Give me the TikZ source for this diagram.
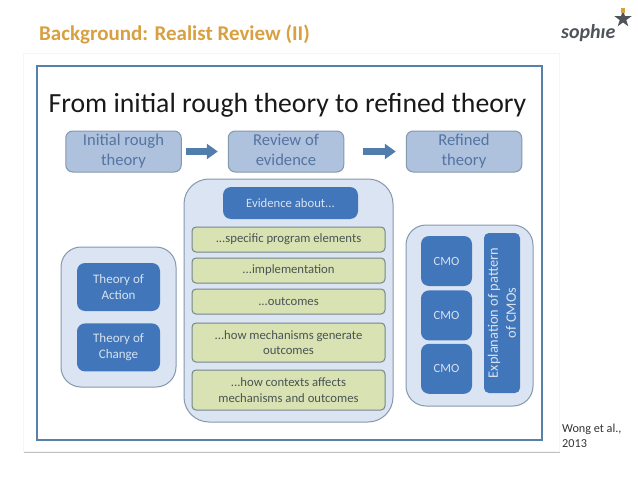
\documentclass[tikz,border=0pt]{standalone}
\usepackage{fontspec}
\usepackage{xcolor}
\setmainfont{Carlito}
\usetikzlibrary{shapes.geometric, arrows.meta, positioning, shadows}
\definecolor{framecol}{RGB}{88,128,168}
\definecolor{softblue}{RGB}{174,194,222}
\definecolor{softtext}{RGB}{84,116,162}
\definecolor{panelblue}{RGB}{219,228,242}
\definecolor{panelline}{RGB}{134,152,172}
\definecolor{deepblue}{RGB}{66,118,186}
\definecolor{paletext}{RGB}{214,226,240}
\definecolor{leaf}{RGB}{216,226,178}
\definecolor{leaftext}{RGB}{74,84,84}
\definecolor{leafline}{RGB}{116,136,140}
\definecolor{heading}{RGB}{216,160,64}
\definecolor{logogrey}{RGB}{80,84,90}

\begin{document}
\begin{tikzpicture}[
    x=1pt, y=-1pt,
    every node/.style={inner sep=0pt, align=center},
    topbox/.style={rectangle, rounded corners=7pt, minimum width=115.5pt, minimum height=41pt,
                   draw=panelline, line width=1pt, fill=softblue, text=softtext, font=\fontsize{16.6}{20}\selectfont},
    panel/.style={rectangle, draw=panelline, line width=1pt, fill=panelblue},
    darkbox/.style={rectangle, rounded corners=8pt, fill=deepblue, text=paletext},
    leafbox/.style={rectangle, rounded corners=4pt, minimum width=193pt, draw=leafline, line width=1pt,
                    fill=leaf, text=leaftext, font=\fontsize{12.7}{15.5}\selectfont},
    cmobox/.style={darkbox, minimum width=51pt, font=\fontsize{12.5}{14}\selectfont},
    theorybox/.style={darkbox, minimum width=83pt, minimum height=48pt, font=\fontsize{13}{16}\selectfont},
    bigarrow/.style={-{Triangle[length=11pt, width=15pt]}, line width=7pt, draw=framecol!70!deepblue, shorten >=10pt}
]
\useasboundingbox (0,0) rectangle (638,479);

% Slide
\node (slidetitle) [anchor=base west, text=heading, font=\fontsize{21}{24}\selectfont\bfseries] at (39,41) {Background: Realist Review (II)};
\node (sheet) [rectangle, minimum width=536pt, minimum height=398pt, fill=white, draw=black!4, drop shadow={shadow xshift=1pt, shadow yshift=-1.5pt, opacity=0.5}] at (291,252) {};
\node (frame) [rectangle, minimum width=505pt, minimum height=374pt, draw=framecol, line width=2pt, fill=white] at (289.5,253) {};
\node (maintitle) [text=black!90, font=\fontsize{27.7}{34}\selectfont] at (287.5,105) {From initial rough theory to refined theory};

% Logo
\node (logoword) [anchor=base west, text=logogrey, font=\fontsize{20}{24}\selectfont\bfseries\itshape] at (561,38) {sophıe};
\node (logostar) [star, star points=5, star point ratio=2.6, minimum size=18pt, fill=logogrey] at (623,19) {};
\node (logolamp) [rectangle, minimum width=3.5pt, minimum height=5pt, fill=heading] at (623,10.5) {};

% Top row
\node (initial) [topbox] at (123.5,151.5) {\strut Initial rough\\\strut theory};
\node (review) [topbox, right=46pt of initial] {\strut Review of\\\strut evidence};
\node (refined) [topbox, right=61.5pt of review] {\strut Refined\\\strut theory};
\draw [bigarrow, shorten <=4pt] (initial) -- (review);
\draw [bigarrow, shorten <=19pt] (review) -- (refined);

% Left group
\node (leftpanel) [panel, rounded corners=20pt, minimum width=115pt, minimum height=140pt] at (118.5,317) {};
\node (action) [theorybox] at (118.5,287) {Theory of\\Action};
\node (change) [theorybox, below=12pt of action] {Theory of\\Change};

% Middle group
\node (midpanel) [panel, rounded corners=25pt, minimum width=209pt, minimum height=243pt] at (288.5,300.5) {};
\node (about) [darkbox, minimum width=135pt, minimum height=32pt, font=\fontsize{12.7}{14}\selectfont] at (290.5,203) {Evidence about...};
\node (elements) [leafbox, minimum height=25pt] at (288.5,239.5) {...specific program elements};
\node (impl) [leafbox, minimum height=25pt, below=5pt of elements] {...implementation};
\node (outcomes) [leafbox, minimum height=25pt, below=5pt of impl] {...outcomes};
\node (mechanisms) [leafbox, minimum height=39pt, below=8pt of outcomes] {...how mechanisms generate\\outcomes};
\node (contexts) [leafbox, minimum height=40pt, below=7pt of mechanisms] {...how contexts affects\\mechanisms and outcomes};

% Right group
\node (rightpanel) [panel, rounded corners=20pt, minimum width=127pt, minimum height=181pt] at (469.5,315.5) {};
\node (cmo1) [cmobox, minimum height=50pt] at (446.5,261) {CMO};
\node (cmo2) [cmobox, minimum height=50pt, below=4pt of cmo1] {CMO};
\node (cmo3) [cmobox, minimum height=50pt, below=3pt of cmo2] {CMO};
\node (pattern) [darkbox, rounded corners=5pt, minimum width=160pt, minimum height=36pt, rotate=90, font=\fontsize{14.4}{18}\selectfont] at (502,313) {Explanation of pattern\\of CMOs};

% Source
\node (source) [anchor=north west, align=left, text=black!80, font=\fontsize{12.2}{15}\selectfont] at (562,424) {Wong et al.,\\2013};

\end{tikzpicture}
\end{document}
